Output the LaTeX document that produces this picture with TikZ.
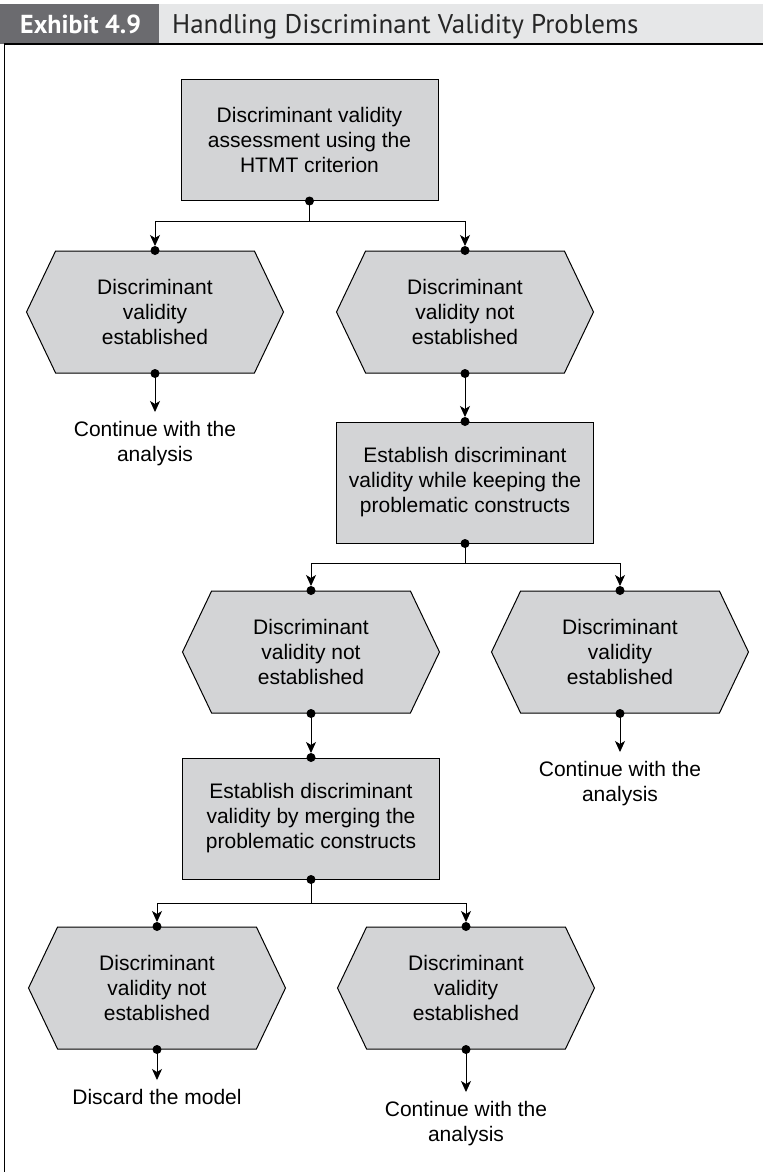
\documentclass[tikz,border=0pt]{standalone}
\usepackage{fontspec}
\setmainfont{Liberation Sans}
\newfontfamily\headfont{PT Sans}
\usetikzlibrary{arrows.meta,shapes.symbols}

\definecolor{boxgray}{HTML}{D3D4D6}
\definecolor{headdark}{HTML}{6B6B6F}
\definecolor{headlight}{HTML}{E6E7E8}

\tikzset{
  txt/.style={font=\fontsize{21}{25}\selectfont},
  box/.style={txt,draw,fill=boxgray,line width=1pt,minimum width=257pt,
    minimum height=121pt,align=center},
  hexa/.style={txt,shape=signal,signal to=west and east,signal pointer angle=129,
    draw,fill=boxgray,line width=1pt,minimum width=257pt,minimum height=122pt,
    inner sep=1pt,align=center},
  outcome/.style={txt,align=center,anchor=north,inner xsep=1pt,inner ysep=9pt},
  link/.style={line width=0.85pt,-{Stealth[length=11pt,width=10pt,inset=3pt]}},
}

\begin{document}
\begin{tikzpicture}[x=1pt,y=-1pt]
  \useasboundingbox (0,0) rectangle (763,1172);
  % bandeau du titre
  \fill[headdark] (0,4) rectangle (159,44);
  \fill[headlight] (159,4) rectangle (763,44);
  \node[anchor=base west,inner sep=0pt,text=white,font=\headfont\bfseries\fontsize{26}{30}\selectfont]
    (exhibit) at (20,33.5) {Exhibit 4.9};
  \node[anchor=base west,inner sep=0pt,text=black!85,font=\headfont\fontsize{27}{30}\selectfont]
    (title) at (172,33.5) {Handling Discriminant Validity Problems};
  \draw[line width=1.2pt] (4.5,1172) -- (4.5,44) -- (763,44);

  % premier niveau
  \node[box] (assess) at (309.5,140) {Discriminant validity\\assessment using the\\HTMT criterion};
  \node[hexa] (estA) at (155,312) {Discriminant\\validity\\established};
  \node[hexa] (notA) at (465,312) {Discriminant\\validity not\\established};
  \node[outcome] (contA) at (155,412) {Continue with the\\analysis};

  % garder les construits
  \node[box] (keep) at (465,482.5) {Establish discriminant\\validity while keeping the\\problematic constructs};
  \node[hexa] (notB) at (311,652) {Discriminant\\validity not\\established};
  \node[hexa] (estB) at (620,652) {Discriminant\\validity\\established};
  \node[outcome] (contB) at (620,752) {Continue with the\\analysis};

  % fusionner les construits
  \node[box] (merge) at (311,818.5) {Establish discriminant\\validity by merging the\\problematic constructs};
  \node[hexa] (notC) at (157,988) {Discriminant\\validity not\\established};
  \node[hexa] (estC) at (466,988) {Discriminant\\validity\\established};
  \node[outcome] (discard) at (157,1080) {Discard the model};
  \node[outcome] (contC) at (466,1092) {Continue with the\\analysis};

  % connecteurs
  \draw[link,shorten >=4.5pt] (assess.south) -- ++(0,20) -| (estA.north);
  \draw[link,shorten >=4.5pt] (assess.south) -- ++(0,20) -| (notA.north);
  \draw[link] (estA.south) -- (contA.north);
  \draw[link,shorten >=4.5pt] (notA.south) -- (keep.north);
  \draw[link,shorten >=4.5pt] (keep.south) -- ++(0,20) -| (notB.north);
  \draw[link,shorten >=4.5pt] (keep.south) -- ++(0,20) -| (estB.north);
  \draw[link] (estB.south) -- (contB.north);
  \draw[link,shorten >=4.5pt] (notB.south) -- (merge.north);
  \draw[link,shorten >=4.5pt] (merge.south) -- ++(0,24) -| (notC.north);
  \draw[link,shorten >=4.5pt] (merge.south) -- ++(0,24) -| (estC.north);
  \draw[link] (notC.south) -- (discard.north);
  \draw[link] (estC.south) -- (contC.north);

  % points de jonction
  \foreach \n in {assess,keep,merge,estA,notA,notB,estB,notC,estC}
    \fill (\n.south) circle (4.5);
  \foreach \n in {estA,notA,keep,notB,estB,merge,notC,estC}
    \fill (\n.north) circle (4.5);
\end{tikzpicture}
\end{document}
